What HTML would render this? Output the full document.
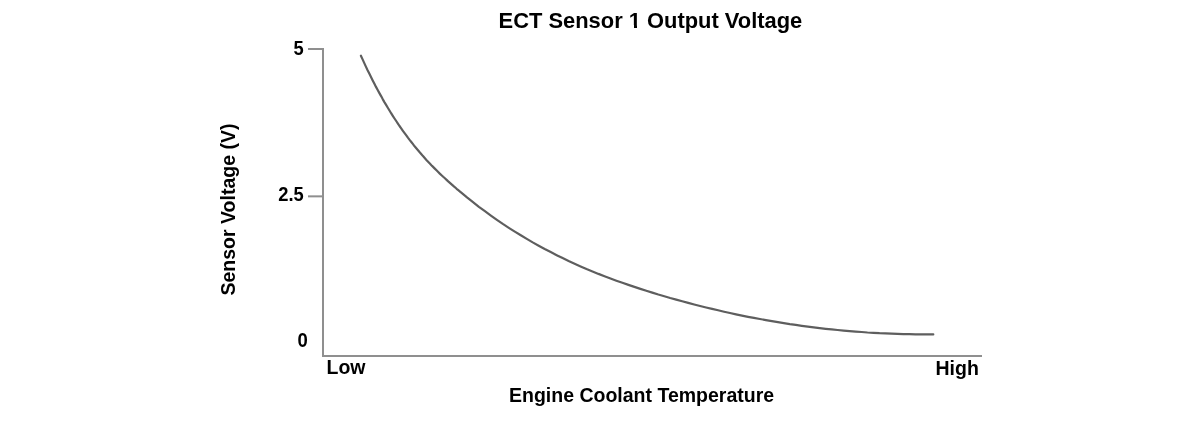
<!DOCTYPE html>
<html><head><meta charset="utf-8"><style>
html,body{margin:0;padding:0;background:#fff;width:1199px;height:421px;overflow:hidden}
svg{display:block}
text{font-family:"Liberation Sans",sans-serif;font-weight:bold;fill:#000}
</style></head><body>
<svg width="1199" height="421" viewBox="0 0 1199 421" style="will-change:transform">
<rect x="0" y="0" width="1199" height="421" fill="#fff"/>
<text x="498.6" y="28.4" font-size="21.9">ECT Sensor 1 Output Voltage</text>
<rect x="629" y="25" width="5" height="4" fill="#fff" shape-rendering="crispEdges"/><rect x="637" y="25" width="5" height="4" fill="#fff" shape-rendering="crispEdges"/>
<g fill="#8f8f8f" shape-rendering="crispEdges">
<rect x="322" y="48" width="2" height="309"/>
<rect x="322" y="355" width="660" height="2"/>
<rect x="308" y="48" width="15" height="2"/>
</g>
<rect x="308" y="195.35" width="15" height="2" fill="#8f8f8f"/>
<path d="M360.9,55.3 L362.6,59.0 L364.3,62.7 L365.9,66.2 L367.6,69.8 L369.3,73.2 L371.0,76.6 L372.7,80.0 L374.3,83.2 L376.0,86.5 L377.7,89.6 L379.4,92.7 L381.1,95.7 L382.7,98.7 L384.4,101.7 L386.1,104.5 L387.8,107.3 L389.5,110.1 L391.1,112.8 L392.8,115.5 L394.5,118.1 L396.2,120.6 L397.9,123.2 L399.5,125.6 L401.2,128.0 L402.9,130.4 L404.6,132.7 L406.3,135.0 L407.9,137.3 L409.6,139.5 L411.3,141.6 L413.0,143.8 L414.6,145.9 L416.3,147.9 L418.0,149.9 L419.7,151.9 L421.4,153.8 L423.0,155.7 L424.7,157.6 L426.4,159.5 L428.1,161.3 L429.8,163.1 L431.4,164.8 L433.1,166.5 L434.8,168.2 L436.5,169.9 L438.2,171.6 L439.8,173.2 L441.5,174.8 L443.2,176.4 L444.9,177.9 L446.6,179.5 L448.2,181.0 L449.9,182.5 L451.6,184.0 L453.3,185.5 L455.0,186.9 L456.6,188.4 L458.3,189.8 L460.0,191.2 L461.0,192.0 L467.0,197.0 L473.0,201.7 L478.9,206.4 L484.9,210.8 L490.9,215.2 L496.9,219.4 L502.8,223.5 L508.8,227.4 L514.8,231.2 L520.8,234.9 L526.8,238.5 L532.7,242.0 L538.7,245.3 L544.7,248.6 L550.7,251.7 L556.7,254.8 L562.6,257.7 L568.6,260.6 L574.6,263.3 L580.6,266.0 L586.5,268.6 L592.5,271.0 L598.5,273.5 L604.5,275.8 L610.5,278.1 L616.4,280.3 L622.4,282.4 L628.4,284.5 L634.4,286.5 L640.4,288.5 L646.3,290.4 L652.3,292.2 L658.3,294.1 L664.3,295.8 L670.2,297.6 L676.2,299.2 L682.2,300.9 L688.2,302.5 L694.2,304.1 L700.1,305.6 L706.1,307.1 L712.1,308.5 L718.1,309.9 L724.1,311.3 L730.0,312.6 L736.0,313.9 L742.0,315.2 L748.0,316.4 L753.9,317.5 L759.9,318.6 L765.9,319.7 L771.9,320.8 L777.9,321.8 L783.8,322.7 L789.8,323.7 L795.8,324.5 L801.8,325.4 L807.8,326.2 L813.7,326.9 L819.7,327.7 L825.7,328.4 L831.7,329.0 L837.6,329.6 L843.6,330.2 L849.6,330.7 L855.6,331.2 L861.6,331.6 L867.5,332.1 L873.5,332.4 L879.5,332.8 L885.5,333.0 L891.5,333.3 L897.4,333.5 L903.4,333.7 L909.4,333.8 L915.4,333.9 L921.3,334.0 L927.3,334.0 L933.3,334.0" fill="none" stroke="#5e5e5e" stroke-width="2.2" transform="translate(0,0.4)" stroke-linecap="round" stroke-linejoin="round"/>
<text transform="translate(303.6,55.35) scale(0.94,1)" font-size="19.5" text-anchor="end">5</text>
<text transform="translate(303.7,201) scale(0.94,1)" font-size="19.5" text-anchor="end">2.5</text>
<text transform="translate(307.9,346.5) scale(0.95,1)" font-size="19.5" text-anchor="end">0</text>
<text x="326.5" y="374.4" font-size="19.5">Low</text>
<text x="935.5" y="374.8" font-size="19.5">High</text>
<text x="509" y="401.8" font-size="19.5">Engine Coolant Temperature</text>
<text transform="translate(235,295.5) rotate(-90)" x="0" y="0" font-size="19.5">Sensor Voltage (V)</text>
</svg>
</body></html>
